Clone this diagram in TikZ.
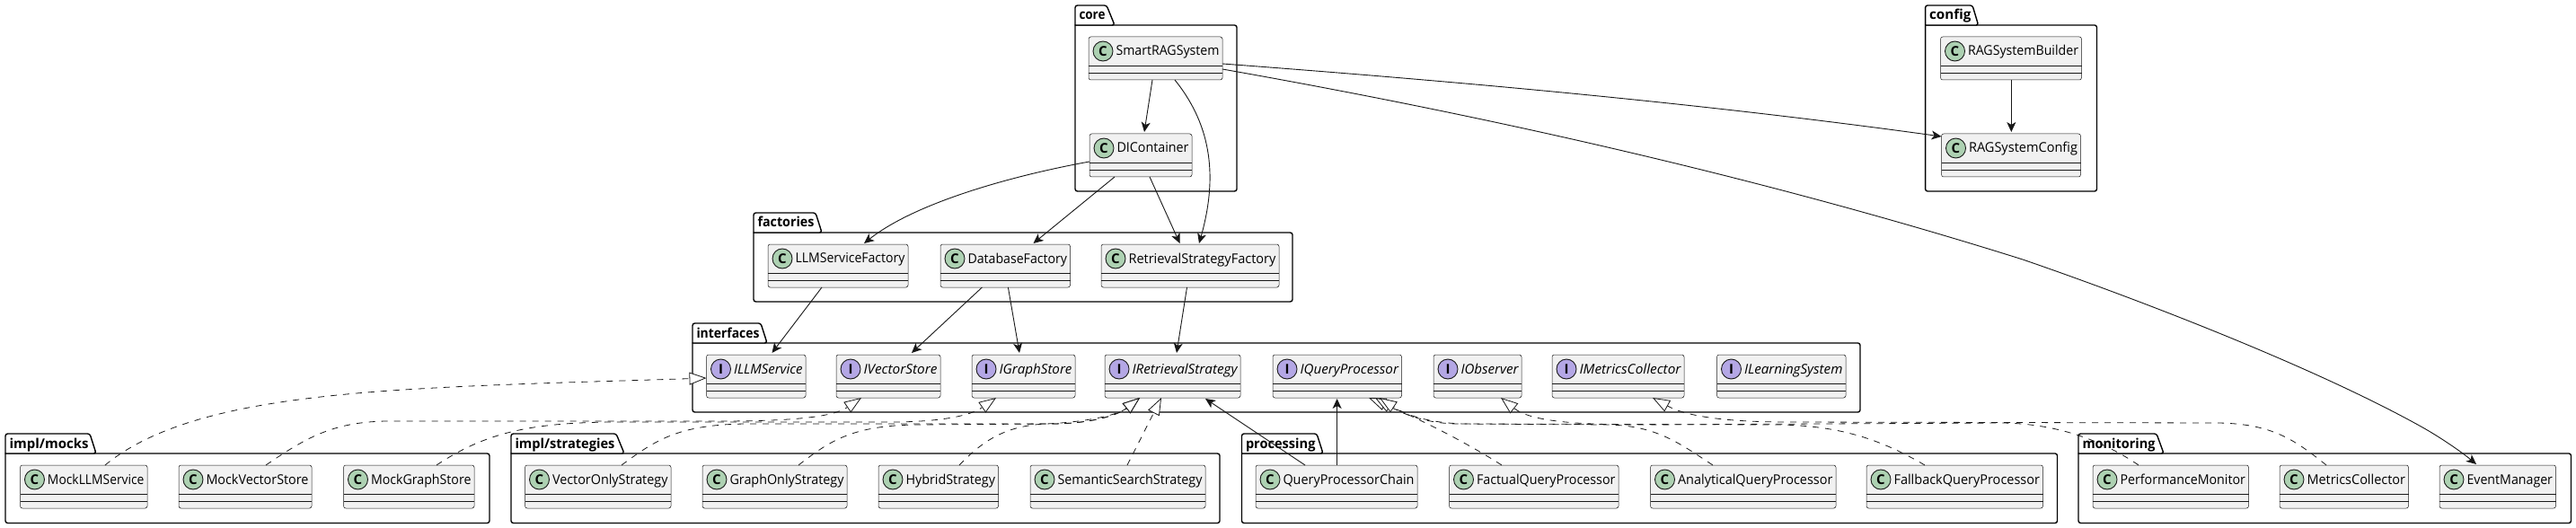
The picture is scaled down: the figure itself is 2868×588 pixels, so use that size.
\documentclass[tikz,border=0pt]{standalone}
\usepackage{fontspec}
\usepackage{graphicx}
\setmainfont{Open Sans}
\usetikzlibrary{arrows.meta}
\definecolor{umlline}{HTML}{181818}
\definecolor{umlfill}{HTML}{F1F1F1}
\definecolor{cgreen}{HTML}{ADD1B2}
\definecolor{ipurple}{HTML}{B4A7E5}
\tikzset{
  umlbox/.style={draw=umlline,fill=umlfill,line width=.5pt,rounded corners=2.5pt,minimum height=48pt,inner sep=0pt,outer sep=0pt,anchor=north west,font=\fontsize{15}{17}\selectfont},
  divider/.style={draw=umlline,line width=.5pt},
  markC/.style={circle,draw=umlline,line width=.9pt,fill=cgreen,minimum size=22pt,inner sep=0pt,font=\fontsize{15}{17}\selectfont\bfseries},
  markI/.style={circle,draw=umlline,line width=.9pt,fill=ipurple,minimum size=22pt,inner sep=0pt,font=\fontsize{15}{17}\selectfont\bfseries},
  pkgline/.style={draw=black,line width=1.4pt,line join=round},
  pkgtitle/.style={inner sep=0pt,outer sep=0pt,anchor=base west,font=\fontsize{15}{17}\selectfont\bfseries},
  dep/.style={draw=umlline,line width=.9pt,-{Stealth[length=11pt,width=10pt,inset=3pt]}},
  impl/.style={draw=umlline,line width=.8pt,dash pattern=on 7pt off 7pt,-{Triangle[open,length=19pt,width=14pt,line width=.8pt,fill=white]}},
}
% name, mark style, letter, text, x1, x2, y
\newcommand{\umlnode}[7]{%
  \pgfmathsetmacro\umlw{#6-#5}%
  \pgfmathsetmacro\umlt{#6-#5-34}%
  \node[umlbox,minimum width=\umlw pt] (#1) at (#5,#7)
    {\makebox[\umlw pt][l]{\hspace*{30.5pt}\raisebox{3pt}[0pt][0pt]{\resizebox{\umlt pt}{\height}{#4}}}};
  \draw[divider] ([yshift=-32pt]#1.north west) -- ([yshift=-32pt]#1.north east);
  \draw[divider] ([yshift=-40pt]#1.north west) -- ([yshift=-40pt]#1.north east);
  \node[#2] (#1-mark) at ([xshift=16pt,yshift=-16pt]#1.north west) {#3};
}
% name, title, x0, x1, tab top right, tab bottom right, tab top, body top, bottom
\newcommand{\umlpkg}[9]{%
  \draw[pkgline,fill=white] (#3,#8) -- (#6,#8) [rounded corners=2.5pt] -- (#4,#8) -- (#4,#9) -- (#3,#9) [sharp corners] -- cycle;
  \draw[pkgline,fill=white] (#3,#8) [rounded corners=2.5pt] -- (#3,#7) -- (#5,#7) -- (#6,#8) [sharp corners] -- cycle;
  \pgfmathsetmacro\umlt{#5-#3-6}%
  \pgfmathsetmacro\umlb{#7+16}%
  \pgfmathsetmacro\umlx{#3+4.5}%
  \node[pkgtitle] (#1) at (\umlx,\umlb) {\resizebox{\umlt pt}{\height}{#2}};
}
\begin{document}
\begin{tikzpicture}[x=1pt,y=-1pt]
\useasboundingbox (0,0) rectangle (2868,588);
\fill[white] (0,0) rectangle (2868,588);
% packages
\umlpkg{pcore}{core}{1197}{1377}{1232}{1241}{6}{28}{213}
\umlpkg{pconfig}{config}{2143.6}{2334.5}{2196}{2202.6}{6}{28}{213}
\umlpkg{pfact}{factories}{839}{1439}{908}{915}{237}{259}{336}
\umlpkg{piface}{interfaces}{771}{2071}{847}{854}{360}{382}{459}
\umlpkg{pmocks}{impl/mocks}{6}{545}{100}{107}{483}{505}{582.5}
\umlpkg{pstrat}{impl/strategies}{569}{1358}{686}{695}{483}{505}{582.5}
\umlpkg{pproc}{processing}{1382.5}{2290.5}{1466}{1473}{483}{505}{582.5}
\umlpkg{pmon}{monitoring}{2314}{2862.5}{2401}{2409}{483}{505}{582.5}
% core, config
\umlnode{smart}{markC}{C}{SmartRAGSystem}{1212}{1361}{41}
\umlnode{di}{markC}{C}{DIContainer}{1213}{1327}{149}
\umlnode{builder}{markC}{C}{RAGSystemBuilder}{2160.5}{2317.5}{41}
\umlnode{config}{markC}{C}{RAGSystemConfig}{2161.5}{2316.5}{149}
% factories
\umlnode{llmf}{markC}{C}{LLMServiceFactory}{855}{1011}{272}
\umlnode{dbf}{markC}{C}{DatabaseFactory}{1047}{1191.5}{272}
\umlnode{retf}{markC}{C}{RetrievalStrategyFactory}{1226}{1424}{272}
% interfaces
\umlnode{illm}{markI}{I}{\itshape ILLMService}{786.5}{897}{395}
\umlnode{ivec}{markI}{I}{\itshape IVectorStore}{931}{1047}{395}
\umlnode{igraph}{markI}{I}{\itshape IGraphStore}{1082}{1197}{395}
\umlnode{iret}{markI}{I}{\itshape IRetrievalStrategy}{1230}{1381}{395}
\umlnode{iqp}{markI}{I}{\itshape IQueryProcessor}{1417}{1560.5}{395}
\umlnode{iobs}{markI}{I}{\itshape IObserver}{1596}{1694}{395}
\umlnode{imet}{markI}{I}{\itshape IMetricsCollector}{1728}{1875}{395}
\umlnode{ilearn}{markI}{I}{\itshape ILearningSystem}{1911.5}{2055}{395}
% mocks
\umlnode{mllm}{markC}{C}{MockLLMService}{22.5}{164}{518}
\umlnode{mvec}{markC}{C}{MockVectorStore}{199}{347}{518}
\umlnode{mgraph}{markC}{C}{MockGraphStore}{382.5}{528}{518}
% strategies
\umlnode{svec}{markC}{C}{VectorOnlyStrategy}{584.5}{747}{518}
\umlnode{sgraph}{markC}{C}{GraphOnlyStrategy}{782}{943}{518}
\umlnode{shyb}{markC}{C}{HybridStrategy}{978}{1111.5}{518}
\umlnode{ssem}{markC}{C}{SemanticSearchStrategy}{1147}{1342}{518}
% processing
\umlnode{chain}{markC}{C}{QueryProcessorChain}{1398}{1578}{518}
\umlnode{fact}{markC}{C}{FactualQueryProcessor}{1613.5}{1802}{518}
\umlnode{anal}{markC}{C}{AnalyticalQueryProcessor}{1837.5}{2044}{518}
\umlnode{fall}{markC}{C}{FallbackQueryProcessor}{2078}{2274.5}{518}
% monitoring
\umlnode{perf}{markC}{C}{PerformanceMonitor}{2330}{2503.5}{518}
\umlnode{metr}{markC}{C}{MetricsCollector}{2538}{2681.5}{518}
\umlnode{event}{markC}{C}{EventManager}{2716}{2845.5}{518}
% dependencies
\draw[dep] ([xshift=71pt]smart.south west) -- ([xshift=61pt,yshift=2pt]di.north west);
\draw[dep] ([xshift=96pt]smart.south west) .. controls (1345,135) and (1358,190) .. ([xshift=109pt,yshift=1pt]retf.north west);
\draw[dep] ([yshift=-6pt]smart.east) .. controls (1627,91) and (1894,115) .. ([yshift=-3pt]config.north west);
\draw[dep] ([yshift=-12pt]smart.east) .. controls (1650,128) and (1960,197) .. (2252,289) .. controls (2380,333) and (2580,410) .. (2699,477) .. controls (2725,492) and (2745,507) .. ([xshift=41pt,yshift=1pt]event.north west);
\draw[dep] ([yshift=-7pt]di.west) .. controls (1130,195) and (1020,225) .. ([xshift=107pt,yshift=1pt]llmf.north west);
\draw[dep] ([xshift=28pt]di.south west) -- ([xshift=103.5pt,yshift=1pt]dbf.north west);
\draw[dep] ([xshift=67pt]di.south west) -- ([xshift=87.5pt,yshift=1pt]retf.north west);
\draw[dep] ([xshift=78.8pt]builder.south west) -- ([xshift=77.8pt,yshift=2pt]config.north west);
\draw[dep] ([xshift=60pt]llmf.south west) -- ([xshift=73pt,yshift=2pt]illm.north west);
\draw[dep] ([xshift=46.4pt]dbf.south west) -- ([xshift=84pt,yshift=2pt]ivec.north west);
\draw[dep] ([xshift=75.4pt]dbf.south west) -- ([xshift=53pt,yshift=2pt]igraph.north west);
\draw[dep] ([xshift=95.5pt]retf.south west) -- ([xshift=80pt,yshift=2pt]iret.north west);
\draw[dep] ([xshift=55pt]chain.north west) -- ([xshift=112pt,yshift=-1pt]iret.south west);
\draw[dep] ([xshift=90.6pt]chain.north west) -- ([xshift=71.6pt,yshift=-1pt]iqp.south west);
% realizations
\draw[impl] ([xshift=94.5pt]mllm.north west) .. controls (175,470) and (270,452) .. (357,442) .. controls (470,429) and (640,426) .. ([yshift=-2pt]illm.west);
\draw[impl] ([xshift=97pt]mvec.north west) .. controls (340,488) and (370,470) .. (430,469) -- (800,469) .. controls (870,469) and (925,466) .. ([xshift=28pt]ivec.south west);
\draw[impl] ([xshift=103.5pt]mgraph.north west) .. controls (540,482) and (590,471) .. (680,470) -- (1000,470) .. controls (1050,469) and (1080,463) .. ([xshift=27pt]igraph.south west);
\draw[impl] ([xshift=107.5pt]svec.north west) .. controls (730,490) and (755,473) .. (830,472) -- (1170,472) .. controls (1215,472) and (1245,462) .. ([xshift=39pt]iret.south west);
\draw[impl] ([xshift=107pt]sgraph.north west) .. controls (925,490) and (950,474) .. (1020,473) -- (1170,472) .. controls (1215,472) and (1245,462) .. ([xshift=39pt]iret.south west);
\draw[impl] ([xshift=90pt]shyb.north west) .. controls (1095,490) and (1120,474) .. (1165,472) .. controls (1210,470) and (1245,462) .. ([xshift=39pt]iret.south west);
\draw[impl] ([xshift=108pt]ssem.north west) -- ([xshift=63pt]iret.south west);
\draw[impl] ([xshift=58.5pt]fact.north west) .. controls (1625,488) and (1570,462) .. ([xshift=107pt]iqp.south west);
\draw[impl] ([xshift=69.5pt]anal.north west) .. controls (1870,494) and (1845,474) .. (1790,473) -- (1620,472) .. controls (1585,471) and (1560,460) .. ([xshift=114pt]iqp.south west);
\draw[impl] ([xshift=65pt]fall.north west) .. controls (2095,490) and (2050,474) .. (1980,473) -- (1630,472) .. controls (1590,471) and (1565,462) .. ([xshift=119pt]iqp.south west);
\draw[impl] ([xshift=51pt]perf.north west) .. controls (2340,490) and (2290,472) .. (2230,471) -- (1830,473) .. controls (1760,473) and (1705,470) .. ([xshift=75pt]iobs.south west);
\draw[impl] ([xshift=52pt]metr.north west) .. controls (2555,490) and (2530,472) .. (2470,471) -- (1990,470) .. controls (1930,470) and (1880,465) .. ([xshift=112pt]imet.south west);
\end{tikzpicture}
\end{document}
